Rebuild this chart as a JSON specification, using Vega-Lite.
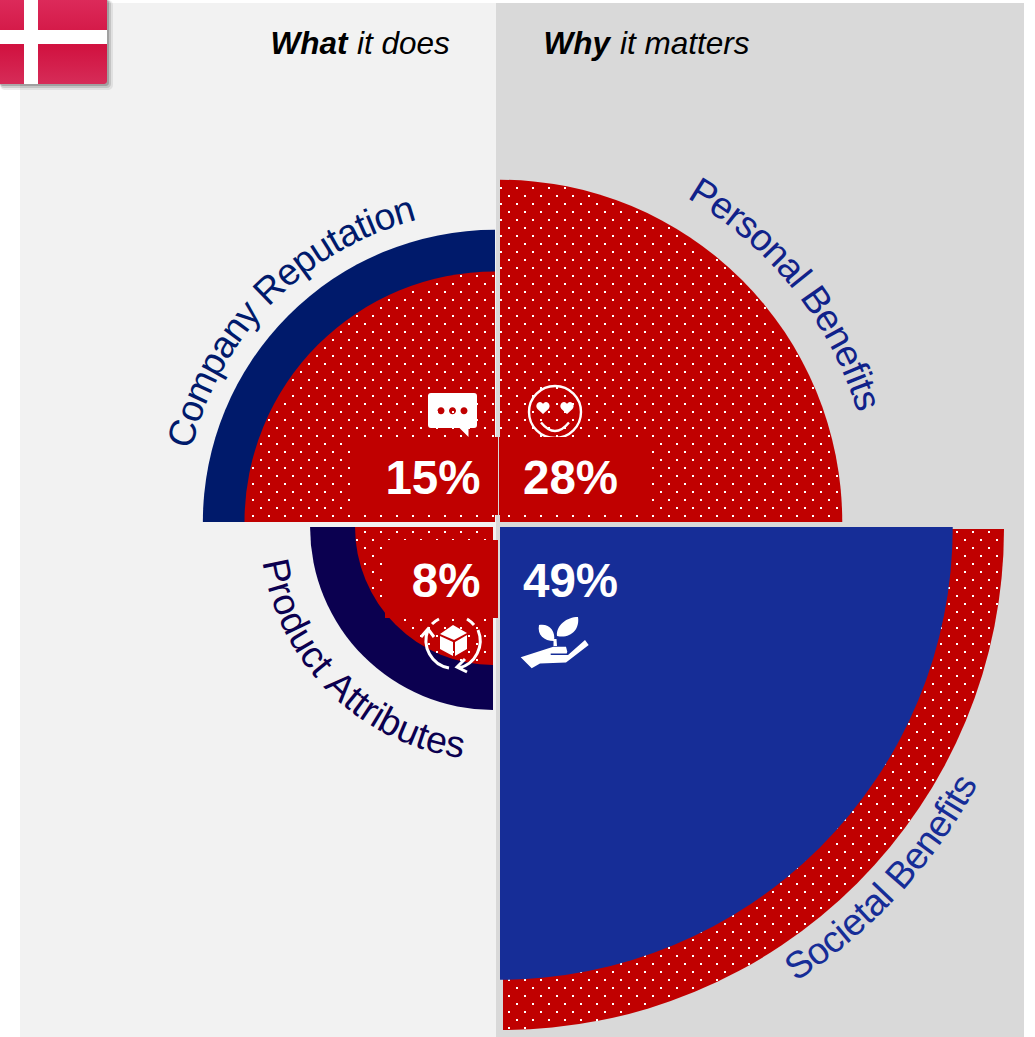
{
"$schema":"https://vega.github.io/schema/vega-lite/v6.json",
"width":1035,"height":1037,"padding":0,"autosize":{"type":"none"},"background":"white",
"config":{"view":{"stroke":null},"axis":{"disable":true},"legend":{"disable":true},"text":{"font":"Liberation Sans"}},
"datasets":{
"wedges":[
{"part":"Company Reputation","series":"comparison","value":20.4},
{"part":"Company Reputation","series":"share","value":15,"label":"15%"},
{"part":"Personal Benefits","series":"share","value":28,"label":"28%"},
{"part":"Product Attributes","series":"share","value":8,"label":"8%"},
{"part":"Product Attributes","series":"comparison","value":4.55},
{"part":"Societal Benefits","series":"comparison","value":60},
{"part":"Societal Benefits","series":"share","value":49,"label":"49%"}
],
"dotRows":[
{"g":"a","r":345},{"g":"a","r":329},{"g":"a","r":313},{"g":"a","r":297},{"g":"a","r":281},{"g":"a","r":265},{"g":"a","r":249},{"g":"a","r":233},{"g":"a","r":217},{"g":"a","r":201},{"g":"a","r":185},{"g":"a","r":169},{"g":"a","r":153},{"g":"a","r":137},{"g":"a","r":121},{"g":"a","r":105},{"g":"a","r":89},{"g":"a","r":73},{"g":"a","r":57},{"g":"a","r":41},{"g":"a","r":25},{"g":"a","r":9},{"g":"a","r":-7},{"g":"a","r":-23},{"g":"a","r":-39},{"g":"a","r":-55},{"g":"a","r":-71},{"g":"a","r":-87},{"g":"a","r":-103},{"g":"a","r":-119},{"g":"a","r":-135},{"g":"a","r":-151},{"g":"a","r":-167},{"g":"a","r":-183},{"g":"a","r":-199},{"g":"a","r":-215},{"g":"a","r":-231},{"g":"a","r":-247},{"g":"a","r":-263},{"g":"a","r":-279},{"g":"a","r":-295},{"g":"a","r":-311},{"g":"a","r":-327},{"g":"a","r":-343},{"g":"a","r":-359},{"g":"a","r":-375},{"g":"a","r":-391},{"g":"a","r":-407},{"g":"a","r":-423},{"g":"a","r":-439},{"g":"a","r":-455},{"g":"a","r":-471},{"g":"a","r":-487},{"g":"a","r":-503},
{"g":"b","r":337},{"g":"b","r":321},{"g":"b","r":305},{"g":"b","r":289},{"g":"b","r":273},{"g":"b","r":257},{"g":"b","r":241},{"g":"b","r":225},{"g":"b","r":209},{"g":"b","r":193},{"g":"b","r":177},{"g":"b","r":161},{"g":"b","r":145},{"g":"b","r":129},{"g":"b","r":113},{"g":"b","r":97},{"g":"b","r":81},{"g":"b","r":65},{"g":"b","r":49},{"g":"b","r":33},{"g":"b","r":17},{"g":"b","r":1},{"g":"b","r":-15},{"g":"b","r":-31},{"g":"b","r":-47},{"g":"b","r":-63},{"g":"b","r":-79},{"g":"b","r":-95},{"g":"b","r":-111},{"g":"b","r":-127},{"g":"b","r":-143},{"g":"b","r":-159},{"g":"b","r":-175},{"g":"b","r":-191},{"g":"b","r":-207},{"g":"b","r":-223},{"g":"b","r":-239},{"g":"b","r":-255},{"g":"b","r":-271},{"g":"b","r":-287},{"g":"b","r":-303},{"g":"b","r":-319},{"g":"b","r":-335},{"g":"b","r":-351},{"g":"b","r":-367},{"g":"b","r":-383},{"g":"b","r":-399},{"g":"b","r":-415},{"g":"b","r":-431},{"g":"b","r":-447},{"g":"b","r":-463},{"g":"b","r":-479},{"g":"b","r":-495}
],
"dotCols":[
{"g":"a","cols":[-244,-228,-212,-196,-180,-164,-148,-132,-116,-100,-84,-68,-52,-36,-20,-4,12,28,44,60,76,92,108,124,140,156,172,188,204,220,236,252,268,284,300,316,332,348,364,380,396,412,428,444,460,476,492,508]},
{"g":"b","cols":[-252,-236,-220,-204,-188,-172,-156,-140,-124,-108,-92,-76,-60,-44,-28,-12,4,20,36,52,68,84,100,116,132,148,164,180,196,212,228,244,260,276,292,308,324,340,356,372,388,404,420,436,452,468,484,500]}
],
"company":[{"ch":"C","at":0.361},{"ch":"o","at":1.0},{"ch":"m","at":1.695},{"ch":"p","at":2.389},{"ch":"a","at":2.945},{"ch":"n","at":3.501},{"ch":"y","at":4.029},{"ch":"R","at":4.918},{"ch":"e","at":5.557},{"ch":"p","at":6.113},{"ch":"u","at":6.669},{"ch":"t","at":7.086},{"ch":"a","at":7.503},{"ch":"t","at":7.92},{"ch":"i","at":8.17},{"ch":"o","at":8.559},{"ch":"n","at":9.115}],
"personal":[{"ch":"P","at":0.334},{"ch":"e","at":0.945},{"ch":"r","at":1.39},{"ch":"s","at":1.806},{"ch":"o","at":2.334},{"ch":"n","at":2.89},{"ch":"a","at":3.446},{"ch":"l","at":3.835},{"ch":"B","at":4.558},{"ch":"e","at":5.169},{"ch":"n","at":5.725},{"ch":"e","at":6.281},{"ch":"f","at":6.698},{"ch":"i","at":6.948},{"ch":"t","at":7.198},{"ch":"s","at":7.587}],
"product":[{"ch":"P","at":0.334},{"ch":"r","at":0.834},{"ch":"o","at":1.278},{"ch":"d","at":1.834},{"ch":"u","at":2.39},{"ch":"c","at":2.918},{"ch":"t","at":3.307},{"ch":"A","at":4.058},{"ch":"t","at":4.53},{"ch":"t","at":4.808},{"ch":"r","at":5.114},{"ch":"i","at":5.391},{"ch":"b","at":5.78},{"ch":"u","at":6.336},{"ch":"t","at":6.753},{"ch":"e","at":7.17},{"ch":"s","at":7.698}],
"societal":[{"ch":"S","at":0.334},{"ch":"o","at":0.945},{"ch":"c","at":1.473},{"ch":"i","at":1.834},{"ch":"e","at":2.223},{"ch":"t","at":2.64},{"ch":"a","at":3.057},{"ch":"l","at":3.446},{"ch":"B","at":4.169},{"ch":"e","at":4.78},{"ch":"n","at":5.336},{"ch":"e","at":5.892},{"ch":"f","at":6.309},{"ch":"i","at":6.559},{"ch":"t","at":6.809},{"ch":"s","at":7.198}]
},
"layer":[
{"data":{"values":[{"panel":"What it does"}]},"mark":{"type":"rect","color":"#f2f2f2"},"encoding":{
 "x":{"datum":-477,"type":"quantitative","scale":{"domain":[-497,538]}},"x2":{"datum":-1},
 "y":{"datum":522,"type":"quantitative","scale":{"domain":[-512,525]}},"y2":{"datum":-512}}},
{"data":{"values":[{"panel":"Why it matters"}]},"mark":{"type":"rect","color":"#d9d9d9"},"encoding":{
 "x":{"datum":-1,"type":"quantitative","scale":{"domain":[-497,538]}},"x2":{"datum":527},"y":{"datum":522,"type":"quantitative","scale":{"domain":[-512,525]}},"y2":{"datum":-512}}},

{"data":{"values":[{"flag":"shadow"}]},"mark":{"type":"rect","color":"#000000","opacity":0.07,"cornerRadius":5},"encoding":{
 "x":{"datum":-497,"type":"quantitative","scale":{"domain":[-497,538]}},"x2":{"datum":-384},"y":{"datum":525,"type":"quantitative","scale":{"domain":[-512,525]}},"y2":{"datum":435}}},
{"data":{"values":[{"flag":"shadow"}]},"mark":{"type":"rect","color":"#000000","opacity":0.12,"cornerRadius":4},"encoding":{
 "x":{"datum":-497,"type":"quantitative","scale":{"domain":[-497,538]}},"x2":{"datum":-386},"y":{"datum":525,"type":"quantitative","scale":{"domain":[-512,525]}},"y2":{"datum":437}}},
{"data":{"values":[{"flag":"shadow"}]},"mark":{"type":"rect","color":"#000000","opacity":0.18,"cornerRadius":3},"encoding":{
 "x":{"datum":-497,"type":"quantitative","scale":{"domain":[-497,538]}},"x2":{"datum":-388},"y":{"datum":525,"type":"quantitative","scale":{"domain":[-512,525]}},"y2":{"datum":439}}},
{"data":{"values":[{"flag":"field"}]},"mark":{"type":"rect","cornerRadiusBottomRight":3,"fill":{"x1":0,"y1":0,"x2":0,"y2":1,"gradient":"linear","stops":[{"offset":0,"color":"#dc2a5a"},{"offset":0.55,"color":"#d11240"},{"offset":1,"color":"#d62c58"}]}},"encoding":{
 "x":{"datum":-497,"type":"quantitative","scale":{"domain":[-497,538]}},"x2":{"datum":-390},"y":{"datum":525,"type":"quantitative","scale":{"domain":[-512,525]}},"y2":{"datum":441}}},
{"data":{"values":[{"flag":"cross"}]},"mark":{"type":"rect","color":"white"},"encoding":{
 "x":{"datum":-473,"type":"quantitative","scale":{"domain":[-497,538]}},"x2":{"datum":-459},"y":{"datum":525,"type":"quantitative","scale":{"domain":[-512,525]}},"y2":{"datum":441}}},
{"data":{"values":[{"flag":"cross"}]},"mark":{"type":"rect","color":"white"},"encoding":{
 "x":{"datum":-497,"type":"quantitative","scale":{"domain":[-497,538]}},"x2":{"datum":-390},"y":{"datum":495,"type":"quantitative","scale":{"domain":[-512,525]}},"y2":{"datum":481}}},

{"data":{"name":"wedges"},"transform":[{"filter":"datum.part==='Company Reputation'&&datum.series==='comparison'"}],"mark":{"type":"arc","color":"#001a6b","theta":4.7124,"theta2":6.2832},"encoding":{
 "x":{"datum":-2,"type":"quantitative","scale":{"domain":[-497,538]}},"y":{"datum":3,"type":"quantitative","scale":{"domain":[-512,525]}},
 "radius":{"field":"value","type":"quantitative","scale":{"type":"sqrt","domain":[0,60],"range":[0,501]}}}},
{"data":{"name":"wedges"},"transform":[{"filter":"datum.part==='Company Reputation'&&datum.series==='share'"}],"mark":{"type":"arc","color":"#c00000","theta":4.7124,"theta2":6.2832},"encoding":{
 "x":{"datum":-2,"type":"quantitative","scale":{"domain":[-497,538]}},"y":{"datum":3,"type":"quantitative","scale":{"domain":[-512,525]}},
 "radius":{"field":"value","type":"quantitative"}}},
{"data":{"name":"wedges"},"transform":[{"filter":"datum.part==='Personal Benefits'"}],"mark":{"type":"arc","color":"#c00000","theta":0,"theta2":1.5708},"encoding":{
 "x":{"datum":3,"type":"quantitative","scale":{"domain":[-497,538]}},"y":{"datum":3,"type":"quantitative","scale":{"domain":[-512,525]}},
 "radius":{"field":"value","type":"quantitative"}}},
{"data":{"name":"wedges"},"transform":[{"filter":"datum.part==='Product Attributes'&&datum.series==='share'"}],"mark":{"type":"arc","color":"#0b0050","theta":3.1416,"theta2":4.7124},"encoding":{
 "x":{"datum":-4,"type":"quantitative","scale":{"domain":[-497,538]}},"y":{"datum":-2,"type":"quantitative","scale":{"domain":[-512,525]}},
 "radius":{"field":"value","type":"quantitative"}}},
{"data":{"name":"wedges"},"transform":[{"filter":"datum.part==='Product Attributes'&&datum.series==='comparison'"}],"mark":{"type":"arc","color":"#c00000","theta":3.1416,"theta2":4.7124},"encoding":{
 "x":{"datum":-4,"type":"quantitative","scale":{"domain":[-497,538]}},"y":{"datum":-2,"type":"quantitative","scale":{"domain":[-512,525]}},
 "radius":{"field":"value","type":"quantitative"}}},
{"data":{"name":"wedges"},"transform":[{"filter":"datum.part==='Societal Benefits'&&datum.series==='comparison'"}],"mark":{"type":"arc","color":"#c00000","theta":1.5708,"theta2":3.1416},"encoding":{
 "x":{"datum":6,"type":"quantitative","scale":{"domain":[-497,538]}},"y":{"datum":-4,"type":"quantitative","scale":{"domain":[-512,525]}},
 "radius":{"field":"value","type":"quantitative"}}},

{"data":{"values":[{"icon":"speech bubble"}]},"mark":{"type":"point","filled":true,"color":"white","opacity":1,"size":4,"shape":"M-21.5,-19 H21.5 Q24.5,-19 24.5,-16 V13 Q24.5,16 21.5,16 H16 V25 L7,16 H-21.5 Q-24.5,16 -24.5,13 V-16 Q-24.5,-19 -21.5,-19 Z"},"encoding":{"x":{"datum":-44.5,"type":"quantitative","scale":{"domain":[-497,538]}},"y":{"datum":113,"type":"quantitative","scale":{"domain":[-512,525]}}}},
{"data":{"values":[{"icon":"speech bubble dots"}]},"mark":{"type":"point","filled":true,"color":"#c00000","opacity":1,"size":4,"shape":"M-15,-1.3 a3.5,3.5 0 1,0 7,0 a3.5,3.5 0 1,0 -7,0 Z M-3.5,-1.3 a3.5,3.5 0 1,0 7,0 a3.5,3.5 0 1,0 -7,0 Z M8,-1.3 a3.5,3.5 0 1,0 7,0 a3.5,3.5 0 1,0 -7,0 Z"},"encoding":{"x":{"datum":-44.5,"type":"quantitative","scale":{"domain":[-497,538]}},"y":{"datum":113,"type":"quantitative","scale":{"domain":[-512,525]}}}},
{"data":{"values":[{"icon":"smiley outline"}]},"mark":{"type":"point","filled":false,"color":"white","opacity":1,"strokeWidth":2.4,"size":4,"shape":"M-26,0 A26,26 0 1,1 26,0 A26,26 0 1,1 -26,0 Z M-14,10.5 Q0,27.5 14,10.5"},"encoding":{"x":{"datum":58,"type":"quantitative","scale":{"domain":[-497,538]}},"y":{"datum":113,"type":"quantitative","scale":{"domain":[-512,525]}}}},
{"data":{"values":[{"icon":"smiley hearts"}]},"mark":{"type":"point","filled":true,"color":"white","opacity":1,"size":4,"shape":"M-12,2 L-17.5,-3 C-20,-6 -18,-10 -15,-10 C-13.5,-10 -12.5,-9 -12,-8 C-11.5,-9 -10.5,-10 -9,-10 C-6,-10 -4,-6 -6.5,-3 Z M12,2 L6.5,-3 C4,-6 6,-10 9,-10 C10.5,-10 11.5,-9 12,-8 C12.5,-9 13.5,-10 15,-10 C18,-10 20,-6 17.5,-3 Z"},"encoding":{"x":{"datum":58,"type":"quantitative","scale":{"domain":[-497,538]}},"y":{"datum":113,"type":"quantitative","scale":{"domain":[-512,525]}}}},

{"data":{"name":"dotRows"},"transform":[
 {"lookup":"g","from":{"data":{"name":"dotCols"},"key":"g","fields":["cols"]}},
 {"flatten":["cols"]},
 {"filter":"(datum.cols>3&&datum.r>3&&sqrt(pow(datum.cols-3,2)+pow(datum.r-3,2))<341)||(datum.cols<-2&&datum.r>3&&sqrt(pow(datum.cols+2,2)+pow(datum.r-3,2))<249)||(datum.cols<-4&&datum.r<-2&&sqrt(pow(datum.cols+4,2)+pow(datum.r+2,2))<137)||(datum.cols>6&&datum.r<-4&&sqrt(pow(datum.cols-6,2)+pow(datum.r+4,2))<500)"}],
 "mark":{"type":"square","color":"white","opacity":1,"size":4,"strokeWidth":0},
 "encoding":{"x":{"field":"cols","type":"quantitative","scale":{"domain":[-497,538]}},"y":{"field":"r","type":"quantitative","scale":{"domain":[-512,525]}}}},

{"data":{"values":[{"box":"15%"}]},"mark":{"type":"rect","color":"#c00000"},"encoding":{"x":{"datum":-147,"type":"quantitative","scale":{"domain":[-497,538]}},"x2":{"datum":1},"y":{"datum":88,"type":"quantitative","scale":{"domain":[-512,525]}},"y2":{"datum":10}}},
{"data":{"values":[{"box":"28%"}]},"mark":{"type":"rect","color":"#c00000"},"encoding":{"x":{"datum":2,"type":"quantitative","scale":{"domain":[-497,538]}},"x2":{"datum":155},"y":{"datum":88,"type":"quantitative","scale":{"domain":[-512,525]}},"y2":{"datum":10}}},
{"data":{"values":[{"box":"8%"}]},"mark":{"type":"rect","color":"#c00000"},"encoding":{"x":{"datum":-112,"type":"quantitative","scale":{"domain":[-497,538]}},"x2":{"datum":1},"y":{"datum":-15,"type":"quantitative","scale":{"domain":[-512,525]}},"y2":{"datum":-93}}},

{"data":{"name":"wedges"},"transform":[{"filter":"datum.part==='Societal Benefits'&&datum.series==='share'"}],"mark":{"type":"arc","color":"#162d97","theta":1.5708,"theta2":3.1416},"encoding":{
 "x":{"datum":3,"type":"quantitative","scale":{"domain":[-497,538]}},"y":{"datum":-2,"type":"quantitative","scale":{"domain":[-512,525]}},
 "radius":{"field":"value","type":"quantitative"}}},

{"data":{"values":[{"icon":"box cube"}]},"mark":{"type":"point","filled":true,"color":"white","opacity":1,"size":4,"shape":"M0,-18 L14,-10 L1,-3 L-13,-9 Z M-13,-7 L0,-1 L0,13 L-13,6 Z M2,-1 L14,-8 L14,6 L2,13 Z"},"encoding":{"x":{"datum":-44,"type":"quantitative","scale":{"domain":[-497,538]}},"y":{"datum":-118,"type":"quantitative","scale":{"domain":[-512,525]}}}},
{"data":{"values":[{"icon":"box arrows"}]},"mark":{"type":"point","filled":false,"color":"white","opacity":1,"strokeWidth":3,"size":4,"shape":"M-25,-13 A28,28 0 0,0 -4,25 M-32,-6 L-25,-14 L-19,-6 M25,-13 A28,28 0 0,1 6,25 M12,16 L4,24 L14,29 M-21,-19 A28,28 0 0,1 -14,-24 M14,-24 A28,28 0 0,1 21,-18"},"encoding":{"x":{"datum":-44,"type":"quantitative","scale":{"domain":[-497,538]}},"y":{"datum":-118,"type":"quantitative","scale":{"domain":[-512,525]}}}},
{"data":{"values":[{"icon":"plant in hand"}]},"mark":{"type":"point","filled":true,"color":"white","opacity":1,"size":4,"shape":"M-34.3,14.3 L-1.7,3.7 L11,3.7 L12.3,8.7 L11.7,10.5 L-4.3,10.5 L-4.3,12 L13,12 L30,-3 L33.7,2 L11,19.5 L-15,20.5 L-23.3,25.3 Z M-16,-18 C-6,-20 1,-12 -1,-2 C-11,-2 -18,-8 -16,-18 Z M23,-26 C25,-13 15,-4 2,-7 C1,-18 12,-26 23,-26 Z M-1.5,-4 L1.5,-4 L2,3 L-1.5,3 Z"},"encoding":{"x":{"datum":58,"type":"quantitative","scale":{"domain":[-497,538]}},"y":{"datum":-118,"type":"quantitative","scale":{"domain":[-512,525]}}}},

{"data":{"name":"wedges"},"transform":[{"filter":"datum.part==='Company Reputation'&&datum.series==='share'"}],"mark":{"type":"text","color":"white","fontWeight":"bold","fontSize":47.5,"align":"right","baseline":"alphabetic"},"encoding":{"x":{"datum":-16.5,"type":"quantitative","scale":{"domain":[-497,538]}},"y":{"datum":31,"type":"quantitative","scale":{"domain":[-512,525]}},"text":{"field":"label"}}},
{"data":{"name":"wedges"},"transform":[{"filter":"datum.part==='Personal Benefits'"}],"mark":{"type":"text","color":"white","fontWeight":"bold","fontSize":47.5,"align":"left","baseline":"alphabetic"},"encoding":{"x":{"datum":26,"type":"quantitative","scale":{"domain":[-497,538]}},"y":{"datum":31,"type":"quantitative","scale":{"domain":[-512,525]}},"text":{"field":"label"}}},
{"data":{"name":"wedges"},"transform":[{"filter":"datum.part==='Product Attributes'&&datum.series==='share'"}],"mark":{"type":"text","color":"white","fontWeight":"bold","fontSize":47.5,"align":"right","baseline":"alphabetic"},"encoding":{"x":{"datum":-16.5,"type":"quantitative","scale":{"domain":[-497,538]}},"y":{"datum":-72,"type":"quantitative","scale":{"domain":[-512,525]}},"text":{"field":"label"}}},
{"data":{"name":"wedges"},"transform":[{"filter":"datum.part==='Societal Benefits'&&datum.series==='share'"}],"mark":{"type":"text","color":"white","fontWeight":"bold","fontSize":47.5,"align":"left","baseline":"alphabetic"},"encoding":{"x":{"datum":26,"type":"quantitative","scale":{"domain":[-497,538]}},"y":{"datum":-72,"type":"quantitative","scale":{"domain":[-512,525]}},"text":{"field":"label"}}},

{"data":{"values":[{"t":"What"}]},"mark":{"type":"text","color":"black","fontWeight":"bold","fontStyle":"italic","fontSize":31.5,"align":"left","baseline":"alphabetic"},"encoding":{"x":{"datum":-226.5,"type":"quantitative","scale":{"domain":[-497,538]}},"y":{"datum":471,"type":"quantitative","scale":{"domain":[-512,525]}},"text":{"field":"t"}}},
{"data":{"values":[{"t":"it does"}]},"mark":{"type":"text","color":"black","fontStyle":"italic","fontSize":31.5,"align":"left","baseline":"alphabetic"},"encoding":{"x":{"datum":-140,"type":"quantitative","scale":{"domain":[-497,538]}},"y":{"datum":471,"type":"quantitative","scale":{"domain":[-512,525]}},"text":{"field":"t"}}},
{"data":{"values":[{"t":"Why"}]},"mark":{"type":"text","color":"black","fontWeight":"bold","fontStyle":"italic","fontSize":31.5,"align":"left","baseline":"alphabetic"},"encoding":{"x":{"datum":46.5,"type":"quantitative","scale":{"domain":[-497,538]}},"y":{"datum":471,"type":"quantitative","scale":{"domain":[-512,525]}},"text":{"field":"t"}}},
{"data":{"values":[{"t":"it matters"}]},"mark":{"type":"text","color":"black","fontStyle":"italic","fontSize":31.5,"align":"left","baseline":"alphabetic"},"encoding":{"x":{"datum":123,"type":"quantitative","scale":{"domain":[-497,538]}},"y":{"datum":471,"type":"quantitative","scale":{"domain":[-512,525]}},"text":{"field":"t"}}},

{"data":{"name":"company"},"mark":{"type":"text","color":"#001a6b","fontSize":37.5,"align":"center","baseline":"alphabetic","radius":312},"encoding":{
 "x":{"datum":-2,"type":"quantitative","scale":{"domain":[-497,538]}},"y":{"datum":3,"type":"quantitative","scale":{"domain":[-512,525]}},"text":{"field":"ch"},
 "theta":{"field":"at","type":"quantitative","stack":null,"scale":{"domain":[0,9.393],"range":[4.948,6.03]}},
 "angle":{"field":"at","type":"quantitative","scale":{"domain":[0,9.393],"range":[-76.5,-14.5]}}}},
{"data":{"name":"personal"},"mark":{"type":"text","color":"#10228a","fontSize":37.5,"align":"center","baseline":"alphabetic","radius":374},"encoding":{
 "x":{"datum":3,"type":"quantitative","scale":{"domain":[-497,538]}},"y":{"datum":3,"type":"quantitative","scale":{"domain":[-512,525]}},"text":{"field":"ch"},
 "theta":{"field":"at","type":"quantitative","stack":null,"scale":{"domain":[0,7.837],"range":[0.5236,1.274]}},
 "angle":{"field":"at","type":"quantitative","scale":{"domain":[0,7.837],"range":[30,73]}}}},
{"data":{"name":"product"},"mark":{"type":"text","color":"#0b0050","fontSize":37.5,"align":"center","baseline":"alphabetic","radius":233},"encoding":{
 "x":{"datum":-4,"type":"quantitative","scale":{"domain":[-497,538]}},"y":{"datum":-2,"type":"quantitative","scale":{"domain":[-512,525]}},"text":{"field":"ch"},
 "theta":{"field":"at","type":"quantitative","stack":null,"scale":{"domain":[0,7.948],"range":[4.564,3.272]}},
 "angle":{"field":"at","type":"quantitative","scale":{"domain":[0,7.948],"range":[81.5,7.5]}}}},
{"data":{"name":"societal"},"mark":{"type":"text","color":"#162d97","fontSize":37.5,"align":"center","baseline":"alphabetic","radius":539},"encoding":{
 "x":{"datum":6,"type":"quantitative","scale":{"domain":[-497,538]}},"y":{"datum":-4,"type":"quantitative","scale":{"domain":[-512,525]}},"text":{"field":"ch"},
 "theta":{"field":"at","type":"quantitative","stack":null,"scale":{"domain":[0,7.448],"range":[2.567,2.063]}},
 "angle":{"field":"at","type":"quantitative","scale":{"domain":[0,7.448],"range":[-32.9,-61.8]}}}}
],
"resolve":{"scale":{"theta":"independent","angle":"independent"}}
}
